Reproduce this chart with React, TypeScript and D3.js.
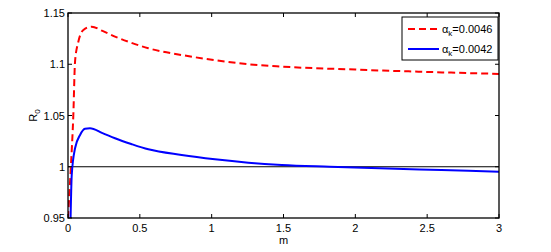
import React from "react";
import * as d3 from "d3";

// values
const mRed = [0, 0.02, 0.037, 0.049, 0.072, 0.107, 0.165, 0.24, 0.327, 0.44, 0.559, 0.791, 1.023, 1.255, 1.487, 2.0, 2.5, 3.0];
const rRed = [0.95, 1.0, 1.05, 1.1026, 1.122, 1.1335, 1.1367, 1.1325, 1.127, 1.121, 1.1156, 1.109, 1.104, 1.1, 1.0977, 1.0948, 1.0925, 1.0906];

const mBlue = [0.018, 0.026, 0.049, 0.084, 0.118, 0.153, 0.24, 0.327, 0.44, 0.559, 0.791, 1.023, 1.255, 1.487, 1.82, 2.17, 2.6, 3.0];
const rBlue = [0.95, 0.992, 1.018, 1.031, 1.037, 1.0375, 1.0328, 1.0278, 1.0222, 1.017, 1.0115, 1.0073, 1.004, 1.0017, 1.0, 0.9985, 0.9968, 0.9952];

const xTicks = [0, 0.5, 1, 1.5, 2, 2.5, 3];
const yTicks = [0.95, 1, 1.05, 1.1, 1.15];
const legendLabels = ["0.0046", "0.0042"];

const W = 551;
const H = 252;
const left = 68;
const right = 499;
const top = 13;
const bottom = 218;

export default function App() {
  const x = d3.scaleLinear().domain([0, 3]).range([left, right]);
  const y = d3.scaleLinear().domain([0.95, 1.15]).range([bottom, top]);

  const line = d3
    .line<[number, number]>()
    .x((d) => x(d[0]))
    .y((d) => y(d[1]))
    .curve(d3.curveMonotoneX);

  const red = mRed.map((m, i) => [m, rRed[i]] as [number, number]);
  const blue = mBlue.map((m, i) => [m, rBlue[i]] as [number, number]);

  const font = "Liberation Sans, Arial, sans-serif";
  const tl = 4;

  return (
    <svg
      width={W}
      height={H}
      style={{ position: "absolute", left: 0, top: 0, background: "#fff" }}
      fontFamily={font}
    >
      <defs>
        <clipPath id="plot">
          <rect x={left} y={top} width={right - left} height={bottom - top} />
        </clipPath>
      </defs>

      <g clipPath="url(#plot)">
        <line x1={x(0)} x2={x(3)} y1={y(1)} y2={y(1)} stroke="#000" strokeWidth={1} />
        <path d={line(red) || ""} fill="none" stroke="#ff0000" strokeWidth={2} strokeDasharray="7,4" />
        <path d={line(blue) || ""} fill="none" stroke="#0000ff" strokeWidth={2} />
      </g>

      {/* ticks, inward on all sides */}
      {xTicks.map((t) => (
        <g key={"x" + t}>
          <line x1={x(t)} x2={x(t)} y1={bottom} y2={bottom - tl} stroke="#000" />
          <line x1={x(t)} x2={x(t)} y1={top} y2={top + tl} stroke="#000" />
          <text x={x(t)} y={bottom + 14} fontSize={11} textAnchor="middle">
            {t}
          </text>
        </g>
      ))}
      {yTicks.map((t) => (
        <g key={"y" + t}>
          <line x1={left} x2={left + tl} y1={y(t)} y2={y(t)} stroke="#000" />
          <line x1={right} x2={right - tl} y1={y(t)} y2={y(t)} stroke="#000" />
          <text x={left - 3} y={y(t) + 4} fontSize={11} textAnchor="end">
            {t}
          </text>
        </g>
      ))}

      <rect
        x={left}
        y={top}
        width={right - left}
        height={bottom - top}
        fill="none"
        stroke="#000"
        strokeWidth={1.3}
      />

      <text x={x(1.5)} y={244} fontSize={11} textAnchor="middle">
        m
      </text>
      <text transform={`translate(37,${y(1.05)}) rotate(-90)`} fontSize={11} textAnchor="middle">
        R<tspan fontSize={8} dy={3}>0</tspan>
      </text>

      {/* legend */}
      <g>
        <rect x={402} y={17} width={96} height={43} fill="#fff" stroke="#000" strokeWidth={1} />
        {legendLabels.map((lab, i) => {
          const ly = 29 + i * 20;
          return (
            <g key={lab}>
              <line
                x1={408}
                x2={439}
                y1={ly}
                y2={ly}
                stroke={i === 0 ? "#ff0000" : "#0000ff"}
                strokeWidth={2}
                strokeDasharray={i === 0 ? "7,4" : undefined}
              />
              <text x={442} y={ly + 4} fontSize={11}>
                α<tspan fontSize={8} dy={3}>k</tspan>
                <tspan dy={-3}>={lab}</tspan>
              </text>
            </g>
          );
        })}
      </g>
    </svg>
  );
}
